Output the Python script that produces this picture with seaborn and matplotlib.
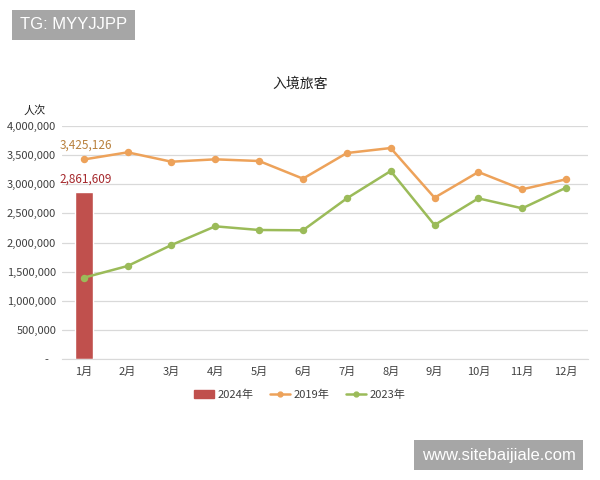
import numpy as np
import pandas as pd
import matplotlib
matplotlib.use("Agg")
import matplotlib.pyplot as plt
import seaborn as sns
from matplotlib.patches import Patch
from matplotlib.lines import Line2D
from matplotlib.ticker import FuncFormatter

# Dados
meses = ["1月", "2月", "3月", "4月", "5月", "6月", "7月", "8月", "9月", "10月", "11月", "12月"]
v2024 = [2861609]
v2019 = [3425126, 3548000, 3387000, 3428000, 3399000, 3096000,
         3536000, 3622000, 2769000, 3210000, 2913000, 3085000]
v2023 = [1396000, 1597000, 1957000, 2278000, 2215000, 2210000,
         2758000, 3227000, 2300000, 2758000, 2587000, 2941000]

c_bar = "#C0504D"
c_2019 = "#EDA25A"
c_2023 = "#9BBB59"

sns.set_style("white")
plt.rcParams["font.family"] = ["Noto Sans CJK SC", "DejaVu Sans"]

fig = plt.figure(figsize=(6, 4.8), dpi=100)
ax = fig.add_axes([0.103, 0.252, 0.877, 0.4855])

df_bar = pd.DataFrame({"mes": meses[:1], "valor": v2024})
sns.barplot(data=df_bar, x="mes", y="valor", order=meses, color=c_bar,
            saturation=1, width=0.41, ax=ax, zorder=2)

df_lin = pd.DataFrame({
    "mes": meses * 2,
    "valor": v2019 + v2023,
    "ano": ["2019年"] * 12 + ["2023年"] * 12,
})
sns.pointplot(data=df_lin, x="mes", y="valor", hue="ano", order=meses,
              palette=[c_2019, c_2023], markers="o", markersize=4,
              linewidth=1.8, errorbar=None, ax=ax, legend=False, zorder=3)

ax.set_xlim(-0.5, 11.5)
ax.set_ylim(0, 4000000)
ax.set_yticks(np.arange(0, 4000001, 500000))
ax.yaxis.set_major_formatter(FuncFormatter(lambda v, p: "-   " if v == 0 else f"{int(v):,}"))
ax.grid(axis="y", color="#D9D9D9", linewidth=0.9, zorder=0)
ax.set_axisbelow(True)
for s in ["top", "right", "left"]:
    ax.spines[s].set_visible(False)
ax.spines["bottom"].set_color("#D9D9D9")
ax.tick_params(axis="both", length=0, labelsize=8, colors="#404040")
ax.tick_params(axis="y", pad=4)
ax.tick_params(axis="x", pad=6)
ax.set_xlabel("")
ax.set_ylabel("")

# Rótulos de dados
ax.text(0.05, v2019[0] + 140000, f"{v2019[0]:,}", color="#B8803C", fontsize=8.5,
        ha="center", va="bottom")
ax.text(0.05, v2024[0] + 110000, f"{v2024[0]:,}", color="#A5282C", fontsize=8.5,
        ha="center", va="bottom")

fig.text(0.5, 0.825, "入境旅客", ha="center", va="center", fontsize=10, color="#222222")
fig.text(0.057, 0.77, "人次", ha="center", va="center", fontsize=8, color="#222222")

handles = [
    Patch(color=c_bar, label="2024年"),
    Line2D([0], [0], color=c_2019, marker="o", markersize=3.5, linewidth=1.8, label="2019年"),
    Line2D([0], [0], color=c_2023, marker="o", markersize=3.5, linewidth=1.8, label="2023年"),
]
fig.legend(handles=handles, loc="center", bbox_to_anchor=(0.5, 0.177), ncol=3,
           frameon=False, fontsize=8, handlelength=1.8, handletextpad=0.3,
           columnspacing=1.5, labelcolor="#404040")

# Marcas d'água
fig.text(0.033, 0.948, "TG: MYYJJPP", fontsize=12, color="white", ha="left", va="center",
         family="Liberation Sans",
         bbox=dict(facecolor="#A6A6A6", edgecolor="none", pad=5.5))
fig.text(0.703, 0.052, "www.sitebaijiale.com", fontsize=12, color="white", ha="left", va="center",
         family="Liberation Sans",
         bbox=dict(facecolor="#A6A6A6", edgecolor="none", pad=5.5))

fig.savefig("out.png", dpi=100)
